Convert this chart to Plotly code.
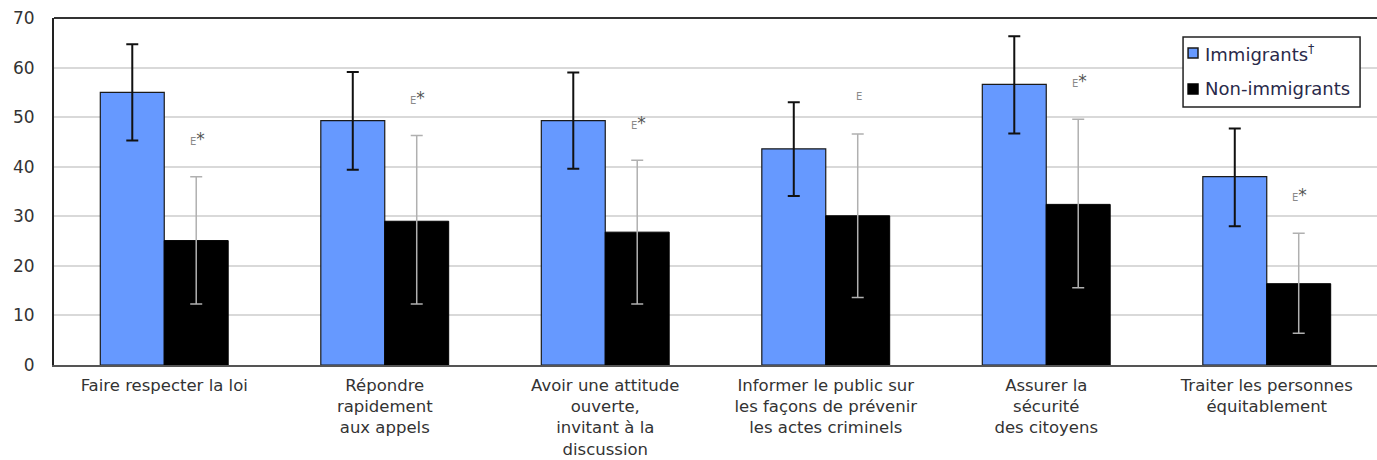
import plotly.graph_objects as go

categories = [
    "Faire respecter la loi",
    "Répondre<br>rapidement<br>aux appels",
    "Avoir une attitude<br>ouverte,<br>invitant à la<br>discussion",
    "Informer le public sur<br>les façons de prévenir<br>les actes criminels",
    "Assurer la<br>sécurité<br>des citoyens",
    "Traiter les personnes<br>équitablement",
]

immigrants = [55.0, 49.3, 49.3, 43.6, 56.6, 38.0]
immigrants_low = [45.3, 39.4, 39.6, 34.1, 46.7, 28.0]
immigrants_high = [64.7, 59.1, 59.0, 53.0, 66.3, 47.7]

non_immigrants = [25.1, 29.0, 26.8, 30.1, 32.4, 16.4]
non_immigrants_low = [12.3, 12.3, 12.3, 13.6, 15.6, 6.4]
non_immigrants_high = [38.0, 46.3, 41.3, 46.6, 49.6, 26.6]

quality_flags = ["E*", "E*", "E*", "E", "E*", "E*"]

series_names = ["Immigrants<sup>†</sup>", "Non-immigrants"]
series_colors = ["#6699ff", "#000000"]
series_edges = ["#1a1a1a", "#000000"]

FONT = "DejaVu Sans"

fig = go.Figure()

fig.add_trace(go.Bar(
    name=series_names[0],
    x=categories,
    y=immigrants,
    marker=dict(color=series_colors[0], line=dict(color=series_edges[0], width=1.2)),
    error_y=dict(
        type="data", symmetric=False,
        array=[h - v for h, v in zip(immigrants_high, immigrants)],
        arrayminus=[v - l for v, l in zip(immigrants, immigrants_low)],
        color="#111111", thickness=2, width=6,
    ),
))

fig.add_trace(go.Bar(
    name=series_names[1],
    x=categories,
    y=non_immigrants,
    marker=dict(color=series_colors[1], line=dict(color=series_edges[1], width=1)),
    error_y=dict(
        type="data", symmetric=False,
        array=[h - v for h, v in zip(non_immigrants_high, non_immigrants)],
        arrayminus=[v - l for v, l in zip(non_immigrants, non_immigrants_low)],
        color="#b0b0b0", thickness=1.5, width=6,
    ),
))

# quality flags above the non-immigrant error bars
for cat, hi, flag in zip(categories, non_immigrants_high, quality_flags):
    star = "<span style='font-size:17px;color:#555'>*</span>" if flag.endswith("*") else ""
    fig.add_annotation(
        x=cat, y=hi + 7.6, xref="x", yref="y",
        text=f"<span style='font-size:10px;color:#8a8a8a'>E</span>{star}",
        showarrow=False, xshift=33,
        font=dict(family=FONT, size=14, color="#555"),
    )

# boxed legend in the upper right corner of the plot area
fig.add_shape(type="rect", xref="paper", yref="paper",
              x0=0.8534, x1=0.9872, y0=0.7435, y1=0.9452,
              line=dict(color="#222222", width=1.5), fillcolor="white", layer="above")
legend_rows = [(0.8847, 0.9135, 0.8991), (0.7810, 0.8098, 0.7954)]
for (y0, y1, yc), name, col, edge in zip(legend_rows, series_names, series_colors, series_edges):
    fig.add_shape(type="rect", xref="paper", yref="paper",
                  x0=0.8572, x1=0.8647, y0=y0, y1=y1,
                  line=dict(color=edge, width=1.5), fillcolor=col, layer="above")
    fig.add_annotation(x=0.8685, y=yc, xref="paper", yref="paper",
                       xanchor="left", yanchor="middle", showarrow=False,
                       text=name, font=dict(family=FONT, size=18, color="#2a2a4a"))

fig.update_layout(
    width=1377, height=460,
    margin=dict(l=54, r=0, t=18, b=95),
    paper_bgcolor="white", plot_bgcolor="white",
    barmode="group", bargap=0.42, bargroupgap=0,
    font=dict(family=FONT, size=16.5, color="#333333"),
    showlegend=False,
    xaxis=dict(
        showline=True, linecolor="#555555", linewidth=1.5,
        ticks="", tickfont=dict(family=FONT, size=16.5, color="#333333"),
        showgrid=False, ticklabelstandoff=4, automargin=False,
    ),
    yaxis=dict(
        range=[0, 70], dtick=10,
        showgrid=True, gridcolor="#d9d9d9", gridwidth=1.5,
        showline=True, linecolor="#222222", linewidth=2,
        ticks="", ticklabelstandoff=14, automargin=False,
        tickfont=dict(family=FONT, size=17, color="#333333"),
        zeroline=False,
    ),
)

# top frame line
fig.add_shape(type="line", xref="paper", yref="paper", x0=0, x1=1, y0=1, y1=1,
              line=dict(color="#333333", width=2))

fig.write_html("out.html")
